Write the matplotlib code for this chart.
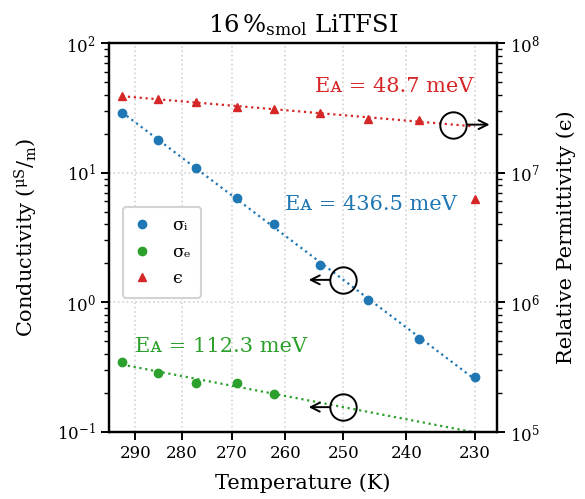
import numpy as np
import matplotlib
matplotlib.use("Agg")
import matplotlib.pyplot as plt

plt.rcParams["font.family"] = ["DejaVu Serif", "DejaVu Sans"]
plt.rcParams["mathtext.fontset"] = "dejavuserif"

temps = np.array([293, 285, 277, 269, 262, 254, 246, 238, 230])
sigma_i = np.array([28.6, 17.8, 10.9, 6.38, 4.05, 1.94, 1.05, 0.517, 0.265])
temps_e = np.array([293, 285, 277, 269, 262])
sigma_e = np.array([0.344, 0.286, 0.239, 0.239, 0.195])
eps = np.array([3.88e7, 3.73e7, 3.51e7, 3.21e7, 3.08e7, 2.86e7, 2.61e7, 2.54e7, 6.3e6])
n_eps_fit = 8  # letzter Punkt ist Ausreisser

ea_labels = ["Eᴀ = 436.5 meV", "Eᴀ = 112.3 meV", "Eᴀ = 48.7 meV"]
x_ticks = [290, 280, 270, 260, 250, 240, 230]

c_i, c_e, c_eps = "tab:blue", "tab:green", "tab:red"


def inv(t):
    with np.errstate(divide="ignore"):
        return 1.0 / np.asarray(t, dtype=float)


def arrhenius_fit(t, y):
    """log10(y) linear in 1/T"""
    p = np.polyfit(1.0 / t, np.log10(y), 1)
    return lambda tt: 10 ** np.polyval(p, 1.0 / np.asarray(tt, dtype=float))


fig = plt.figure(figsize=(5.85, 4.99), dpi=100)
ax = fig.add_axes([0.1863, 0.1343, 0.6633, 0.7795])
ax2 = ax.twinx()

ax.set_xscale("function", functions=(inv, inv))
ax.set_yscale("log")
ax2.set_yscale("log")

t_line = np.linspace(293, 230, 200)
f_i = arrhenius_fit(temps, sigma_i)
f_e = arrhenius_fit(temps_e, sigma_e)
f_eps = arrhenius_fit(temps[:n_eps_fit], eps[:n_eps_fit])

ax.plot(t_line, f_i(t_line), ":", color=c_i, lw=1.6)
ax.plot(t_line, f_e(t_line), ":", color=c_e, lw=1.6)
ax2.plot(t_line, f_eps(t_line), ":", color=c_eps, lw=1.6)

h1, = ax.plot(temps, sigma_i, "o", color=c_i, ms=6, label="σᵢ")
h2, = ax.plot(temps_e, sigma_e, "o", color=c_e, ms=6, label="σₑ")
h3, = ax2.plot(temps, eps, "^", color=c_eps, ms=6, label="ϵ")

ax.set_xlim(226.9, 296.0)
ax.set_ylim(1e-1, 1e2)
ax2.set_ylim(1e5, 1e8)
ax.set_xticks(x_ticks)
ax.set_xticklabels([str(t) for t in x_ticks])
ax.xaxis.set_minor_locator(matplotlib.ticker.NullLocator())

ax.grid(True, which="major", ls=":", color="lightgray", lw=1.2)

for a in (ax, ax2):
    for s in a.spines.values():
        s.set_linewidth(1.6)
    a.tick_params(which="major", length=6, width=1.4, labelsize=12)
    a.tick_params(which="minor", length=3.5, width=1.0)

ax.set_xlabel("Temperature (K)", fontsize=15, labelpad=8)
ax.set_ylabel(r"Conductivity ($\mathregular{^{\mu S}/_{m}}$)", fontsize=15, labelpad=12)
ax2.set_ylabel("Relative Permittivity (ϵ)", fontsize=15, labelpad=12)
ax.set_title(r"16$\,$%$_\mathrm{smol}$ LiTFSI", fontsize=17.5, pad=8)

# Aktivierungsenergien
ax.text(0.454, 0.584, ea_labels[0], color=c_i, fontsize=15, va="center", transform=ax.transAxes)
ax.text(0.067, 0.219, ea_labels[1], color=c_e, fontsize=15, va="center", transform=ax.transAxes)
ax.text(0.531, 0.888, ea_labels[2], color=c_eps, fontsize=15, va="center", transform=ax.transAxes)

# Kreise + Pfeile zur Achsenzuordnung
for a, f, tc, dx in [(ax, f_i, 250, -25), (ax, f_e, 250, -25), (ax2, f_eps, 233, 26)]:
    yc = f(tc)
    a.plot([tc], [yc], "o", ms=19, mfc="none", mec="black", mew=1.4)
    a.annotate("", xy=(tc, yc), xytext=(dx, 0), textcoords="offset points",
               arrowprops=dict(arrowstyle="<-", color="black", lw=1.4, shrinkA=0, shrinkB=9.6,
                               mutation_scale=16))

leg = ax.legend(handles=[h1, h2, h3], loc="lower left", bbox_to_anchor=(0.035, 0.345),
                borderaxespad=0, fontsize=12.5, handlelength=1.0, handletextpad=1.25,
                borderpad=0.6, labelspacing=0.55, framealpha=1)
leg.get_frame().set_edgecolor("lightgray")
leg.get_frame().set_linewidth(1.5)

fig.savefig("out.png", dpi=100)
